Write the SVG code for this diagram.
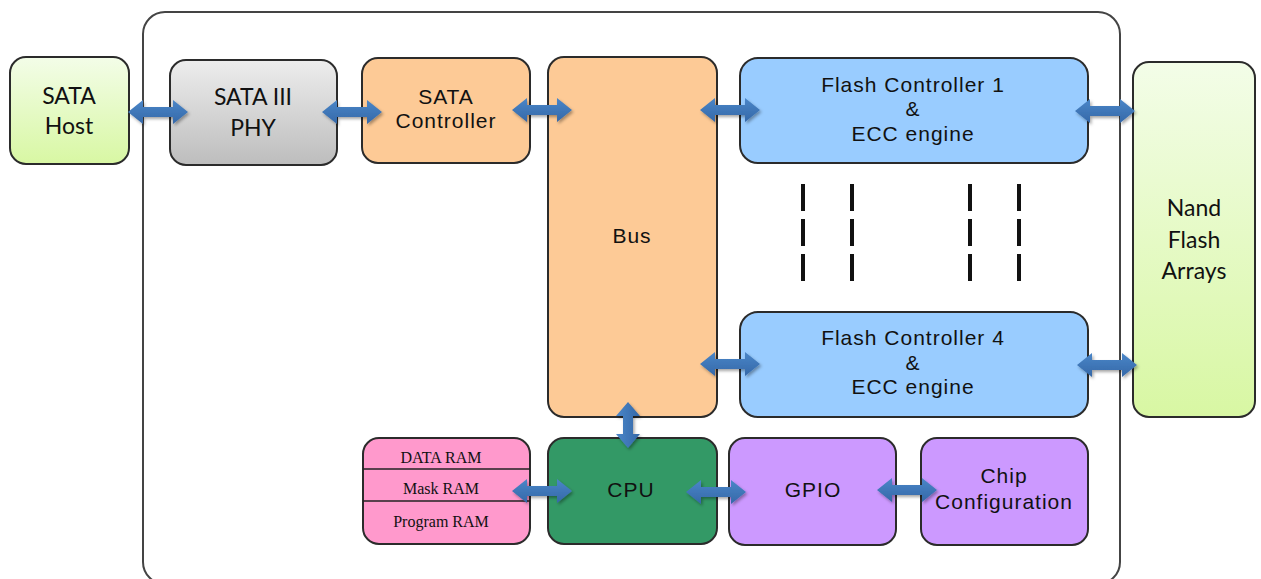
<svg xmlns="http://www.w3.org/2000/svg" xmlns:xlink="http://www.w3.org/1999/xlink" width="1261" height="579" viewBox="0 0 1261 579">
<defs>
<linearGradient id="gGreen" x1="0" y1="0" x2="0" y2="1"><stop offset="0" stop-color="#f3fde8"/><stop offset="1" stop-color="#d8f7a3"/></linearGradient>
<linearGradient id="gGray" x1="0" y1="0" x2="0" y2="1"><stop offset="0" stop-color="#ededed"/><stop offset="1" stop-color="#bdbdbd"/></linearGradient>
<linearGradient id="gArrow" x1="0" y1="0" x2="0" y2="1"><stop offset="0" stop-color="#4a86c8"/><stop offset="1" stop-color="#3568a8"/></linearGradient>
<linearGradient id="gArrowV" x1="0" y1="0" x2="1" y2="0"><stop offset="0" stop-color="#4a86c8"/><stop offset="1" stop-color="#3568a8"/></linearGradient>
<filter id="sh" x="-20%" y="-40%" width="140%" height="180%"><feDropShadow dx="1.5" dy="2" stdDeviation="1.5" flood-color="#000" flood-opacity="0.35"/></filter>
<path id="arr" d="M-30,0 L-15,-12 L-15,-5 L15,-5 L15,-12 L30,0 L15,12 L15,5 L-15,5 L-15,12 Z"/>
<path id="arrV" d="M0,-23 L-12,-9 L-5,-9 L-5,9 L-12,9 L0,23 L12,9 L5,9 L5,-9 L12,-9 Z"/>
</defs>
<style>
.box{stroke:#2b2b2b;stroke-width:2}
.cal{font-family:Lato,"Open Sans","DejaVu Sans",sans-serif;font-size:23px;fill:#111;text-anchor:middle}
.ar{font-family:"Liberation Sans",Arial,sans-serif;font-size:21px;letter-spacing:1px;fill:#111;text-anchor:middle}
.tm{font-family:"Liberation Serif","Times New Roman",serif;font-size:16px;fill:#111;text-anchor:middle}
.arrow{fill:url(#gArrow);filter:url(#sh)}
.dash{stroke:#111;stroke-width:4;stroke-dasharray:27 8}
</style>
<rect width="1261" height="579" fill="#fff"/>
<g id="container"><rect x="143" y="12" width="977" height="572" rx="22" fill="none" stroke="#444" stroke-width="2"/></g>
<g id="sata-host"><rect class="box" x="10" y="57" width="119" height="107" rx="16" fill="url(#gGreen)"/><text class="cal" x="69" y="104">SATA</text><text class="cal" x="69" y="134">Host</text></g>
<g id="sata-phy"><rect class="box" x="170" y="60" width="167" height="105" rx="16" fill="url(#gGray)"/><text class="cal" x="253" y="105">SATA III</text><text class="cal" x="253" y="136">PHY</text></g>
<g id="sata-controller"><rect class="box" x="362" y="58" width="168" height="105" rx="16" fill="#fdca96"/><text class="ar" x="446" y="104">SATA</text><text class="ar" x="446" y="128">Controller</text></g>
<g id="bus"><rect class="box" x="548" y="57" width="169" height="360" rx="16" fill="#fdca96"/><text class="ar" x="632" y="243">Bus</text></g>
<g id="flash-controller-1"><rect class="box" x="740" y="58" width="348" height="105" rx="18" fill="#99ccff"/><text class="ar" x="913" y="92">Flash Controller 1</text><text class="ar" x="913" y="116">&amp;</text><text class="ar" x="913" y="141">ECC engine</text></g>
<g id="flash-controller-4"><rect class="box" x="740" y="312" width="348" height="105" rx="18" fill="#99ccff"/><text class="ar" x="913" y="345">Flash Controller 4</text><text class="ar" x="913" y="370">&amp;</text><text class="ar" x="913" y="394">ECC engine</text></g>
<g id="nand-flash"><rect class="box" x="1133" y="62" width="122" height="355" rx="16" fill="url(#gGreen)"/><text class="cal" x="1194" y="216">Nand</text><text class="cal" x="1194" y="248">Flash</text><text class="cal" x="1194" y="279">Arrays</text></g>
<g id="ram"><rect class="box" x="363" y="438" width="167" height="106" rx="16" fill="#ff99cc"/><line x1="363" y1="469" x2="530" y2="469" stroke="#222" stroke-width="1.5"/><line x1="363" y1="501" x2="530" y2="501" stroke="#222" stroke-width="1.5"/><text class="tm" x="441" y="463">DATA RAM</text><text class="tm" x="441" y="494">Mask RAM</text><text class="tm" x="441" y="527">Program RAM</text></g>
<g id="cpu"><rect class="box" x="548" y="438" width="169" height="106" rx="16" fill="#339966"/><text class="ar" x="631" y="497">CPU</text></g>
<g id="gpio"><rect class="box" x="729" y="438" width="167" height="107" rx="16" fill="#cc99ff"/><text class="ar" x="813" y="497">GPIO</text></g>
<g id="chip-config"><rect class="box" x="921" y="438" width="167" height="107" rx="16" fill="#cc99ff"/><text class="ar" x="1004" y="483">Chip</text><text class="ar" x="1004" y="509">Configuration</text></g>
<g id="ellipsis-dashes">
<line class="dash" x1="803" y1="184" x2="803" y2="282"/>
<line class="dash" x1="852" y1="184" x2="852" y2="282"/>
<line class="dash" x1="970" y1="184" x2="970" y2="282"/>
<line class="dash" x1="1019" y1="184" x2="1019" y2="282"/>
</g>
<g id="connectors">
<use xlink:href="#arr" class="arrow" transform="translate(158,112)"/>
<use xlink:href="#arr" class="arrow" transform="translate(352,112)"/>
<use xlink:href="#arr" class="arrow" transform="translate(542,110)"/>
<use xlink:href="#arr" class="arrow" transform="translate(730,110)"/>
<use xlink:href="#arr" class="arrow" transform="translate(1105,111)"/>
<use xlink:href="#arr" class="arrow" transform="translate(730,364)"/>
<use xlink:href="#arr" class="arrow" transform="translate(1107,365)"/>
<use xlink:href="#arrV" fill="url(#gArrowV)" filter="url(#sh)" transform="translate(628,425)"/>
<use xlink:href="#arr" class="arrow" transform="translate(542,491)"/>
<use xlink:href="#arr" class="arrow" transform="translate(716,492)"/>
<use xlink:href="#arr" class="arrow" transform="translate(907,490)"/>
</g>
</svg>
